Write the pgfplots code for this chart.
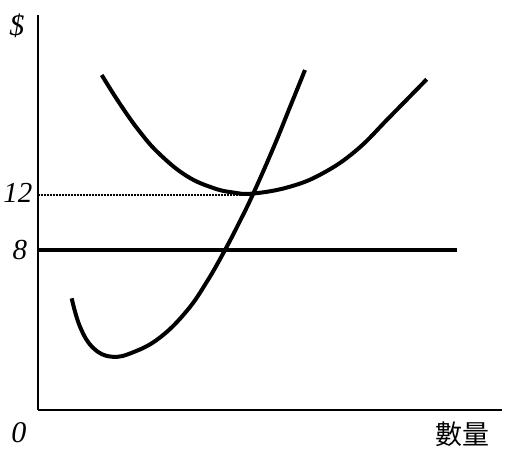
\documentclass[border=0pt]{standalone}
\usepackage{fontspec}
\setmainfont{Liberation Serif}
\newfontfamily\cjk{Noto Sans CJK TC}
\usepackage{pgfplots}
\pgfplotsset{compat=1.18}

\begin{document}
\begin{tikzpicture}
  \begin{axis}[
    x=1pt, y=1pt,
    xmin=0, xmax=464,
    ymin=0, ymax=395,
    axis x line=bottom,
    axis y line=left,
    axis line style={-, line width=1.8pt, black},
    ticks=none,
    clip=false,
  ]
    % page frame (same size as the reference)
    \path (axis cs:-38,-40) rectangle (axis cs:468,410);

    % price line at 8
    \addplot[black, line width=3.2pt] coordinates {(0,160) (419,160)};

    % dotted guide at 12
    \addplot[black, line width=1.2pt, dash pattern=on 1.6pt off 1.4pt]
      coordinates {(0,215) (215,215)};

    % ATC
    \addplot[black, line width=4pt, smooth, tension=0.7] coordinates {
      (63.7,335) (82,306) (102,278) (122,255.5) (148.7,234)
      (175.3,222) (195.3,217.5) (215.3,216.5) (252,223.3) (285.3,237)
      (318.7,260) (352,293.3) (388.7,330.7)
    };

    % MC
    \addplot[black, line width=4pt, smooth, tension=0.7] coordinates {
      (33.7,111.7) (42,83.3) (55.3,62) (73.7,53.3) (95.3,57.8)
      (122,72.5) (148.7,99) (168.7,128) (187,160) (202,189)
      (215.3,216.5) (235.3,262) (252,303) (267,340)
    };

    % labels
    \node[font=\fontsize{30}{30}\selectfont\itshape] at (axis cs:-21,384) {\$};
    \node[font=\fontsize{29}{29}\selectfont\itshape] at (axis cs:-20,217) {12};
    \node[font=\fontsize{29}{29}\selectfont\itshape] at (axis cs:-18,160) {8};
    \node[font=\fontsize{30}{30}\selectfont\itshape] at (axis cs:-19,-23) {0};
    \node[font=\fontsize{27}{27}\selectfont\cjk] at (axis cs:424,-24) {數量};
  \end{axis}
\end{tikzpicture}
\end{document}
